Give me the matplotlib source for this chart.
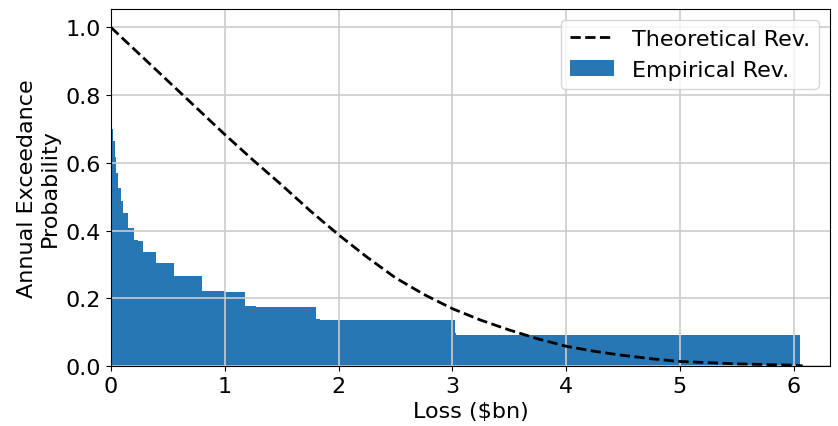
import numpy as np
import matplotlib.pyplot as plt

# Theoretical exceedance curve
theo_loss = [0.0, 0.25, 0.5, 0.75, 1.0, 1.25, 1.5, 1.75, 2.0, 2.25, 2.5, 2.75,
             3.0, 3.25, 3.5, 3.75, 4.0, 4.25, 4.5, 4.75, 5.0, 5.5, 6.0, 6.08]
theo_prob = [1.0, 0.921, 0.842, 0.763, 0.684, 0.608, 0.535, 0.459, 0.388, 0.322,
             0.261, 0.212, 0.170, 0.136, 0.107, 0.081, 0.059, 0.044, 0.032, 0.022,
             0.014, 0.007, 0.003, 0.001]

# Empirical exceedance steps: left edge of each step and its height
emp_edges = [0.0, 0.008, 0.017, 0.031, 0.044, 0.058, 0.086, 0.109, 0.145, 0.199,
             0.239, 0.277, 0.391, 0.55, 0.796, 0.998, 1.174, 1.270, 1.805, 1.834,
             3.02, 3.03]
emp_prob = [1.0, 0.70, 0.664, 0.618, 0.571, 0.527, 0.489, 0.453, 0.407, 0.373,
            0.369, 0.337, 0.305, 0.266, 0.222, 0.218, 0.178, 0.175, 0.139, 0.136,
            0.097, 0.093]
emp_end = 6.06


def run_plot():
    plt.rcParams['font.size'] = 16
    fig, ax = plt.subplots(figsize=(8.38, 4.27), dpi=100)
    fig.subplots_adjust(left=0.1325, right=0.9905, top=0.977, bottom=0.14)

    widths = np.diff(emp_edges + [emp_end])
    ax.plot(theo_loss, theo_prob, 'k--', lw=2, label='Theoretical Rev.')
    ax.bar(emp_edges, emp_prob, width=widths, align='edge', color='#2777b4',
           linewidth=0, label='Empirical Rev.')

    ax.set_xlim(0, 6.32)
    ax.set_ylim(0, 1.055)
    ax.set_xticks(range(7))
    ax.set_yticks([0.0, 0.2, 0.4, 0.6, 0.8, 1.0])
    ax.grid(True, color='#cccccc', lw=1.2)

    ax.set_xlabel('Loss ($bn)')
    ax.set_ylabel('Annual Exceedance\nProbability')
    ax.legend(loc='upper right')

    plt.savefig('out.png')


if __name__ == "__main__":
    run_plot()
